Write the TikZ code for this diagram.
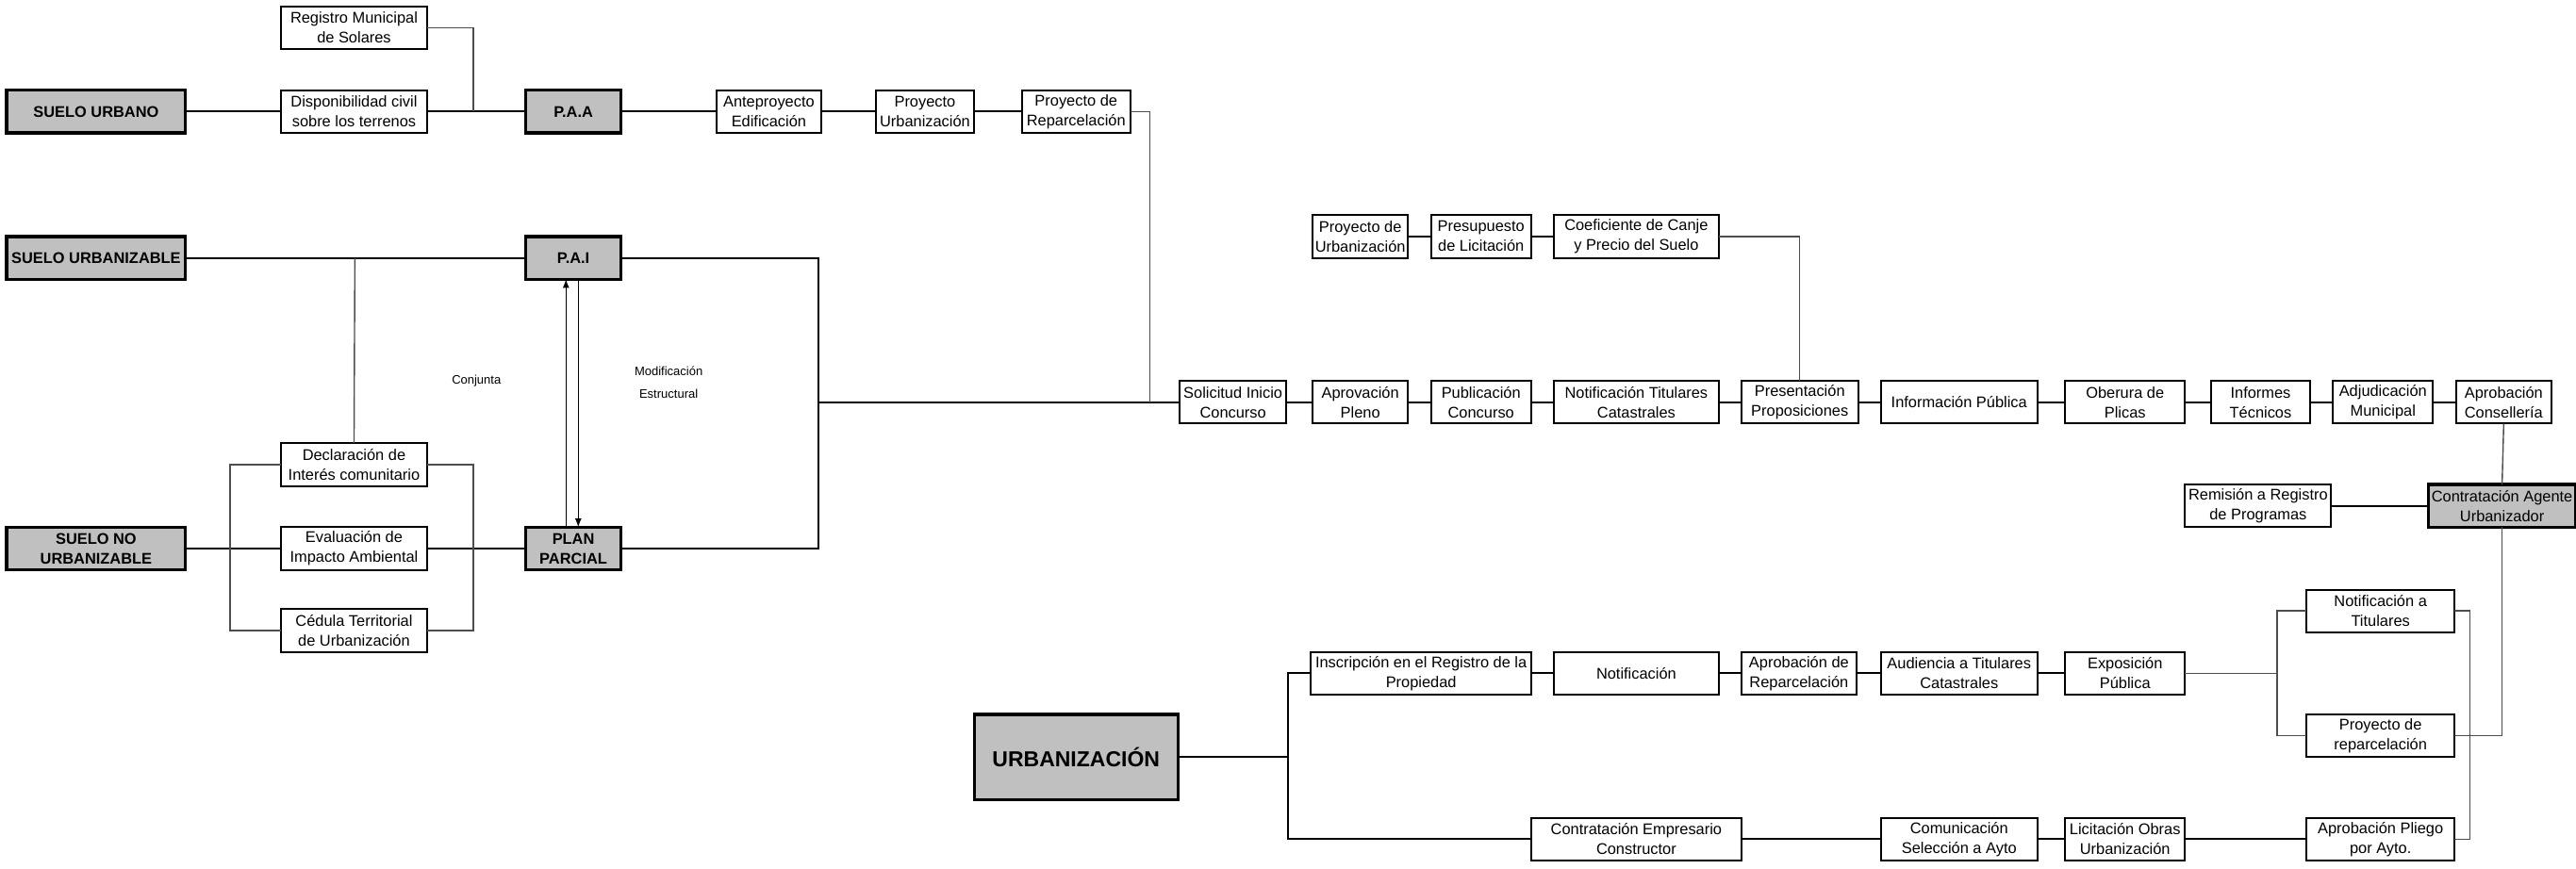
\documentclass[tikz,border=0pt]{standalone}
\usepackage{fontspec}
\setmainfont{Liberation Sans}
\usepackage{tkz-graph}
\definecolor{boxgray}{HTML}{C0C0C0}
\definecolor{linkgray}{HTML}{4D4D4D}

\begin{document}
\begin{tikzpicture}[x=0.871pt,y=-0.871pt,line width=1pt,
    font=\fontsize{8.2}{10.5}\selectfont]
    \GraphInit[vstyle=Normal]
    \tikzset{VertexStyle/.style={rectangle,draw=black,inner sep=0pt,align=center},
      EdgeStyle/.style={line width=1pt,black},
      soil/.style={fill=boxgray,line width=1.6pt,font=\bfseries\fontsize{8.2}{10.5}\selectfont},
      bigsoil/.style={fill=boxgray,line width=1.6pt,minimum height=45.3pt,
        font=\bfseries\fontsize{11.5}{14}\selectfont},
      bw/.style={minimum width=#1*0.871pt,minimum height=22.6pt},
      link/.style={linkgray,line width=0.7pt},
      note/.style={font=\fontsize{6.5}{8}\selectfont}}
    \useasboundingbox (0,0) rectangle (1568,529);
    % tipos de suelo
    \Vertex[x=58.5,y=68,L={SUELO URBANO},style={bw=109,soil}]{sU}
    \Vertex[x=58.5,y=157,L={SUELO URBANIZABLE},style={bw=109,soil}]{sZ}
    \Vertex[x=58.5,y=334,L={SUELO NO\\URBANIZABLE},style={bw=109,soil}]{sN}
    % P.A.A
    \Vertex[x=215.5,y=17,L={Registro Municipal\\de Solares},style={bw=89}]{reg}
    \Vertex[x=215.5,y=68,L={Disponibilidad civil\\sobre los terrenos},style={bw=89}]{disp}
    \Vertex[x=349,y=68,L={P.A.A},style={bw=58,soil}]{paa}
    \Vertex[x=468,y=68,L={Anteproyecto\\Edificación},style={bw=64}]{ante}
    \Vertex[x=563,y=68,L={Proyecto\\Urbanización},style={bw=60}]{pUrb}
    \Vertex[x=655,y=68,L={Proyecto de\\Reparcelación},style={bw=66}]{pRep}
    % P.A.I y plan parcial
    \Vertex[x=349,y=157,L={P.A.I},style={bw=58,soil}]{pai}
    \Vertex[x=215.5,y=283,L={Declaración de\\Interés comunitario},style={bw=89}]{decl}
    \Vertex[x=215.5,y=334,L={Evaluación de\\Impacto Ambiental},style={bw=89}]{eval}
    \Vertex[x=215.5,y=384,L={Cédula Territorial\\de Urbanización},style={bw=89}]{ced}
    \Vertex[x=349,y=334,L={PLAN\\PARCIAL},style={bw=58,soil}]{plan}
    % concurso
    \Vertex[x=750.5,y=245,L={Solicitud Inicio\\Concurso},style={bw=65}]{sol}
    \Vertex[x=828,y=245,L={Aprovación\\Pleno},style={bw=58}]{apro}
    \Vertex[x=901.5,y=245,L={Publicación\\Concurso},style={bw=61}]{pub}
    \Vertex[x=996,y=245,L={Notificación Titulares\\Catastrales},style={bw=100}]{notT}
    \Vertex[x=1095.5,y=245,L={Presentación\\Proposiciones},style={bw=71}]{pres}
    \Vertex[x=1192.5,y=245,L={Información Pública},style={bw=95}]{infP}
    \Vertex[x=1293.5,y=245,L={Oberura de\\Plicas},style={bw=73}]{plic}
    \Vertex[x=1376,y=245,L={Informes\\Técnicos},style={bw=60}]{infT}
    \Vertex[x=1450.5,y=245,L={Adjudicación\\Municipal},style={bw=61}]{adj}
    \Vertex[x=1524,y=245,L={Aprobación\\Consellería},style={bw=58}]{cons}
    \Vertex[x=828,y=144,L={Proyecto de\\Urbanización},style={bw=58}]{pUrb2}
    \Vertex[x=901.5,y=144,L={Presupuesto\\de Licitación},style={bw=61}]{presu}
    \Vertex[x=996,y=144,L={Coeficiente de Canje\\y Precio del Suelo},style={bw=100}]{coef}
    \Vertex[x=1374.5,y=308,L={Remisión a Registro\\de Programas},style={bw=89}]{rem}
    \Vertex[x=1523,y=308,L={Contratación Agente\\Urbanizador},style={bw=90,fill=boxgray,line width=1.6pt}]{agen}
    % urbanizacion
    \Vertex[x=655,y=461,L={URBANIZACIÓN},style={bw=124,bigsoil}]{urb}
    \Vertex[x=865,y=410,L={Inscripción en el Registro de la\\Propiedad},style={bw=134}]{insc}
    \Vertex[x=996,y=410,L={Notificación},style={bw=100}]{noti}
    \Vertex[x=1095,y=410,L={Aprobación de\\Reparcelación},style={bw=70}]{aRep}
    \Vertex[x=1192.5,y=410,L={Audiencia a Titulares\\Catastrales},style={bw=95}]{aud}
    \Vertex[x=1293.5,y=410,L={Exposición\\Pública},style={bw=73}]{expo}
    \Vertex[x=1449,y=372,L={Notificación a\\Titulares},style={bw=90}]{nTit}
    \Vertex[x=1449,y=448,L={Proyecto de\\reparcelación},style={bw=90}]{pRep2}
    \Vertex[x=996,y=511,L={Contratación Empresario\\Constructor},style={bw=128}]{cEmp}
    \Vertex[x=1192.5,y=511,L={Comunicación\\Selección a Ayto},style={bw=95}]{com}
    \Vertex[x=1293.5,y=511,L={Licitación Obras\\Urbanización},style={bw=73}]{lic}
    \Vertex[x=1449,y=511,L={Aprobación Pliego\\por Ayto.},style={bw=90}]{pli}
    % cadenas
    \Edges(sU,disp,paa,ante,pUrb,pRep)
    \Edge(sZ)(pai)
    \Edges(sN,eval,plan)
    \Edges(sol,apro,pub,notT,pres,infP,plic,infT,adj,cons)
    \Edges(pUrb2,presu,coef)
    \Edge(rem)(agen)
    \Edges(insc,noti,aRep,aud,expo)
    \Edges(cEmp,com,lic,pli)
    % ramales
    \coordinate (jReg) at (288,68);
    \coordinate (jDecl) at (216,157);
    \coordinate (bL) at (140,334);
    \coordinate (bR) at (288,334);
    \coordinate (jPai) at (498,245);
    \coordinate (jRep) at (700,245);
    \coordinate (jUrb) at (784,461);
    \coordinate (jExp) at (1386,410);
    \coordinate (jPli) at (1503.5,448);
    \draw[link] (reg.east) -| (jReg);
    \draw[link] (jDecl) -- (decl.north);
    \draw[link] (decl.west) -| (bL) |- (ced.west);
    \draw[link] (decl.east) -| (bR) |- (ced.east);
    \draw[EdgeStyle] (pai.east) -| (jPai) |- (plan.east);
    \draw[EdgeStyle] (jPai) -- (sol.west);
    \draw[link] (pRep.east) -| (jRep);
    \draw[link] (coef.east) -| (pres.north);
    \draw[link] (cons.south) -- (agen.north);
    \draw[link] (agen.south) |- (pRep2.east);
    \draw[EdgeStyle] (urb.east) -- (jUrb);
    \draw[EdgeStyle] (insc.west) -| (jUrb) |- (cEmp.west);
    \draw[link] (expo.east) -- (jExp);
    \draw[link] (nTit.west) -| (jExp) |- (pRep2.west);
    \draw[link] (nTit.east) -| (jPli) |- (pli.east);
    % P.A.I <-> plan parcial
    \draw[-latex,line width=0.6pt] ([xshift=-3.9pt]plan.north) -- ([xshift=-3.9pt]pai.south);
    \draw[-latex,line width=0.6pt] ([xshift=2.6pt]pai.south) -- ([xshift=2.6pt]plan.north);
    \node[note] (conj) at (290,232) {Conjunta};
    \node[note] (modif) at (407,226) {Modificación};
    \node[note] (estr) at (407,240) {Estructural};
\end{tikzpicture}
\end{document}
